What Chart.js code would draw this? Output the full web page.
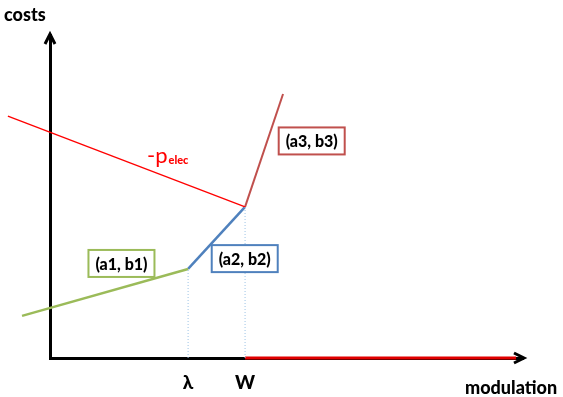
<!DOCTYPE html>
<html>
<head>
<meta charset="utf-8">
<script src="https://cdn.jsdelivr.net/npm/chart.js@4"></script>
<style>
  html, body { margin: 0; padding: 0; background: #fff; }
  #wrap { width: 563px; height: 397px; }
</style>
</head>
<body>
<div id="wrap"><canvas id="chartCosts"></canvas></div>
<script>
// ==================== Data ====================
const xMax = 13.7;          // modulation axis length
const yMax = 9.36;          // costs axis length
const lambda = 4.0;         // break point 1
const W = 5.65;             // break point 2

// piecewise cost segments (x, y)
const seg1 = [{ x: -0.81, y: 1.22 }, { x: lambda, y: 2.58 }];   // (a1, b1)
const seg2 = [{ x: lambda, y: 2.58 }, { x: W, y: 4.38 }];       // (a2, b2)
const seg3 = [{ x: W, y: 4.38 }, { x: 6.75, y: 7.65 }];         // (a3, b3)
const pElec = [{ x: -1.22, y: 7.01 }, { x: W, y: 4.38 }];       // -p_elec
const redAxis = [{ x: W, y: 0 }, { x: 13.5, y: 0 }];

const tickValues = [lambda, W];
const tickLabels = ['λ', 'W'];

// label boxes: text, centre (data units), colour
const boxLabels = [
  { text: '(a1, b1)', x: 2.07, y: 2.74, color: '#9BBB59' },
  { text: '(a2, b2)', x: 5.64, y: 2.88, color: '#4F81BD' },
  { text: '(a3, b3)', x: 7.58, y: 6.29, color: '#C0504D' }
];

const FONT = 'Lato, "Liberation Sans", sans-serif';

// ==================== Plugin: arrows + text ====================
const decorations = {
  id: 'decorations',
  afterDatasetsDraw(chart) {
    const { ctx, scales: { x, y } } = chart;
    const x0 = x.getPixelForValue(0), y0 = y.getPixelForValue(0);
    const xEnd = x.getPixelForValue(xMax), yEnd = y.getPixelForValue(yMax);

    ctx.save();
    // arrow heads
    ctx.strokeStyle = '#000';
    ctx.lineWidth = 3;
    ctx.lineJoin = 'miter';
    ctx.beginPath();
    ctx.moveTo(x0 - 5, yEnd + 9);
    ctx.lineTo(x0, yEnd - 1);
    ctx.lineTo(x0 + 5, yEnd + 9);
    ctx.stroke();
    ctx.beginPath();
    ctx.moveTo(xEnd - 9, y0 - 5);
    ctx.lineTo(xEnd + 1, y0);
    ctx.lineTo(xEnd - 9, y0 + 5);
    ctx.stroke();

    // axis titles
    ctx.fillStyle = '#000';
    ctx.textBaseline = 'middle';
    ctx.textAlign = 'left';
    ctx.font = '900 18px ' + FONT;
    ctx.fillText('costs', 4, 15);
    ctx.fillText('modulation', 465, 388);

    // boxes
    ctx.font = '900 16px ' + FONT;
    ctx.textAlign = 'center';
    boxLabels.forEach(b => {
      const cx = x.getPixelForValue(b.x), cy = y.getPixelForValue(b.y);
      const w = 66, h = 27;
      ctx.fillStyle = '#fff';
      ctx.fillRect(cx - w / 2, cy - h / 2, w, h);
      ctx.strokeStyle = b.color;
      ctx.lineWidth = 2;
      ctx.strokeRect(cx - w / 2, cy - h / 2, w, h);
      ctx.fillStyle = '#000';
      ctx.fillText(b.text, cx, cy + 1);
    });

    // -p_elec label
    ctx.fillStyle = '#FF0000';
    ctx.textAlign = 'left';
    ctx.textBaseline = 'alphabetic';
    ctx.font = '22px ' + FONT;
    ctx.fillText('-p', 147, 163);
    const wp = ctx.measureText('-p').width;
    ctx.font = '900 11px ' + FONT;
    ctx.fillText('elec', 147 + wp + 1, 164);
    ctx.restore();
  }
};

// ==================== Chart ====================
const line = (data, color, width, dash) => ({
  data, showLine: true, borderColor: color, borderWidth: width,
  borderDash: dash || [], pointRadius: 0, clip: false, tension: 0
});

new Chart(document.getElementById('chartCosts'), {
  type: 'scatter',
  data: {
    datasets: [
      line([{ x: lambda, y: 0 }, seg1[1]], '#9DC3E6', 1, [1, 2]),
      line([{ x: W, y: 0 }, seg2[1]], '#9DC3E6', 1, [1, 2]),
      line(pElec, '#FF0000', 1.3),
      line(seg1, '#9BBB59', 2.5),
      line(seg2, '#4F81BD', 2.5),
      line(seg3, '#C0504D', 2),
      line(redAxis, '#E00000', 3)
    ]
  },
  plugins: [decorations],
  options: {
    responsive: true,
    maintainAspectRatio: false,
    animation: false,
    layout: { padding: { left: 50, top: 35, right: 40, bottom: 0 } },
    plugins: { legend: { display: false }, tooltip: { enabled: false } },
    scales: {
      x: {
        type: 'linear', min: 0, max: xMax,
        grid: { display: false, drawTicks: false },
        border: { display: true, color: '#000', width: 3 },
        afterBuildTicks: s => { s.ticks = tickValues.map(v => ({ value: v })); },
        afterFit: s => { s.height = 39; },
        ticks: {
          padding: 13,
          color: '#000',
          font: { family: FONT, weight: '900', size: 19 },
          callback: (v) => tickLabels[tickValues.indexOf(v)] ?? '',
          maxRotation: 0, autoSkip: false
        }
      },
      y: {
        type: 'linear', min: 0, max: yMax,
        grid: { display: false, drawTicks: false },
        border: { display: true, color: '#000', width: 3 },
        ticks: { display: false }
      }
    }
  }
});
</script>
</body>
</html>
